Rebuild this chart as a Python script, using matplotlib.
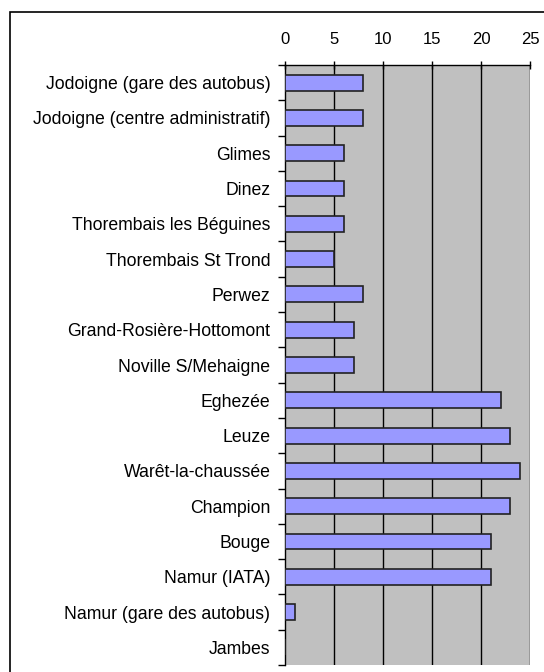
import matplotlib
matplotlib.use("Agg")
import matplotlib.pyplot as plt
from matplotlib.patches import Rectangle

categories = [
    "Jodoigne (gare des autobus)",
    "Jodoigne (centre administratif)",
    "Glimes",
    "Dinez",
    "Thorembais les Béguines",
    "Thorembais St Trond",
    "Perwez",
    "Grand-Rosière-Hottomont",
    "Noville S/Mehaigne",
    "Eghezée",
    "Leuze",
    "Warêt-la-chaussée",
    "Champion",
    "Bouge",
    "Namur (IATA)",
    "Namur (gare des autobus)",
    "Jambes",
]
values = [8, 8, 6, 6, 6, 5, 8, 7, 7, 22, 23, 24, 23, 21, 21, 1, 0]
xticks = [0, 5, 10, 15, 20, 25]

plt.rcParams['font.family'] = ['Liberation Sans', 'DejaVu Sans']

fig = plt.figure(figsize=(5.44, 6.72), dpi=100)
W, H = 544, 672
left, right, top, bottom = 285, 530, 65, 665
ax = fig.add_axes([left / W, 1 - bottom / H, (right - left) / W, (bottom - top) / H])
ax.set_facecolor("#C0C0C0")

n = len(categories)
ypos = list(range(n))
ax.barh(ypos, values, height=0.45, color="#9999FF", edgecolor="#222222", linewidth=1.2, zorder=3)
ax.set_ylim(n - 0.5, -0.5)
ax.set_xlim(0, 25)

ax.xaxis.tick_top()
ax.set_xticks(xticks)
ax.set_xticklabels([str(t) for t in xticks], fontsize=12)
ax.tick_params(axis='x', direction='inout', length=6, width=1, pad=10, colors='black')
for t in xticks[1:]:
    ax.axvline(t, color='black', linewidth=1, zorder=1)

ax.set_yticks([i - 0.5 for i in range(n + 1)], minor=False)
ax.set_yticklabels([])
ax.set_yticks(ypos, minor=True)
ax.set_yticklabels(categories, minor=True, fontsize=12.7)
ax.tick_params(axis='y', which='major', direction='out', length=5, width=1)
ax.tick_params(axis='y', which='minor', length=0, pad=10.5)

for s in ['right', 'bottom']:
    ax.spines[s].set_visible(False)
ax.spines['left'].set_linewidth(1)
ax.spines['top'].set_linewidth(1)

fig.patches.append(Rectangle((10 / W, -0.1), 1, 1 - 12 / H + 0.1, transform=fig.transFigure,
                             fill=False, edgecolor='black', linewidth=1.2))

fig.savefig("out.png", dpi=100)
